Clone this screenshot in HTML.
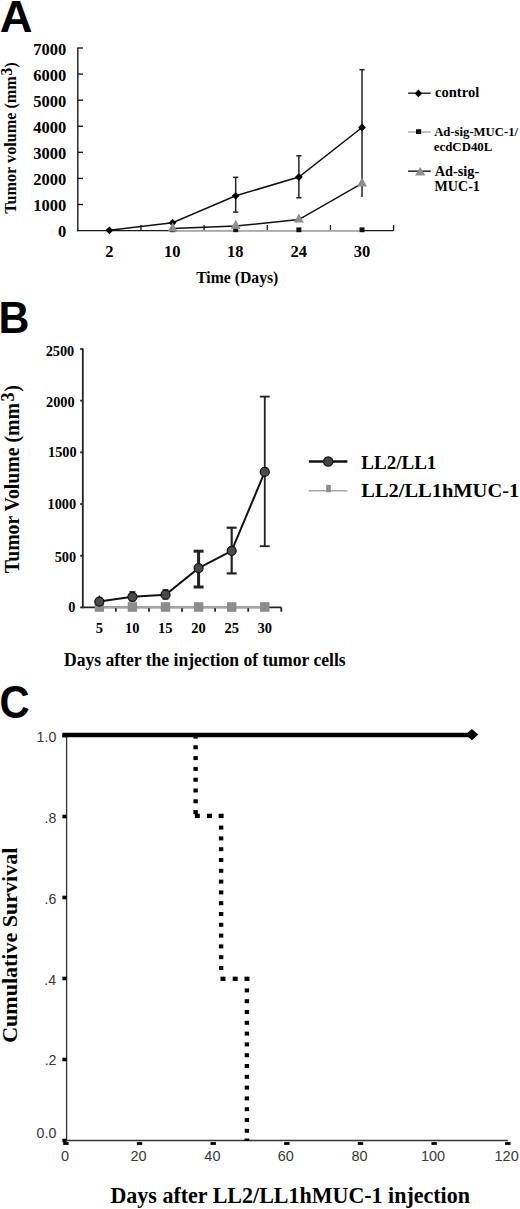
<!DOCTYPE html>
<html><head><meta charset="utf-8"><style>
html,body{margin:0;padding:0;background:#fff;}
body{width:520px;height:1209px;overflow:hidden;}
svg{display:block;}
</style></head><body>
<svg width="520" height="1209" viewBox="0 0 520 1209">
<rect width="520" height="1209" fill="#fff"/>
<text x="-0.33" y="31.70" font-family="'Liberation Sans', sans-serif" font-weight="bold" font-size="45" textLength="32.77" lengthAdjust="spacingAndGlyphs" fill="#000">A</text>
<line x1="77.80" y1="47.60" x2="77.80" y2="231.20" stroke="#1a1a1a" stroke-width="1.4"/>
<line x1="77.80" y1="204.51" x2="83.00" y2="204.51" stroke="#1a1a1a" stroke-width="1.4"/>
<line x1="77.80" y1="178.43" x2="83.00" y2="178.43" stroke="#1a1a1a" stroke-width="1.4"/>
<line x1="77.80" y1="152.34" x2="83.00" y2="152.34" stroke="#1a1a1a" stroke-width="1.4"/>
<line x1="77.80" y1="126.26" x2="83.00" y2="126.26" stroke="#1a1a1a" stroke-width="1.4"/>
<line x1="77.80" y1="100.17" x2="83.00" y2="100.17" stroke="#1a1a1a" stroke-width="1.4"/>
<line x1="77.80" y1="74.09" x2="83.00" y2="74.09" stroke="#1a1a1a" stroke-width="1.4"/>
<line x1="77.80" y1="48.00" x2="83.00" y2="48.00" stroke="#1a1a1a" stroke-width="1.4"/>
<text x="57.91" y="237.40" font-family="'Liberation Serif', serif" font-weight="bold" font-size="16.5" textLength="8.25" lengthAdjust="spacingAndGlyphs" fill="#000">0</text>
<text x="33.16" y="211.31" font-family="'Liberation Serif', serif" font-weight="bold" font-size="16.5" textLength="33.00" lengthAdjust="spacingAndGlyphs" fill="#000">1000</text>
<text x="33.16" y="185.23" font-family="'Liberation Serif', serif" font-weight="bold" font-size="16.5" textLength="33.00" lengthAdjust="spacingAndGlyphs" fill="#000">2000</text>
<text x="33.16" y="159.14" font-family="'Liberation Serif', serif" font-weight="bold" font-size="16.5" textLength="33.00" lengthAdjust="spacingAndGlyphs" fill="#000">3000</text>
<text x="33.16" y="133.06" font-family="'Liberation Serif', serif" font-weight="bold" font-size="16.5" textLength="33.00" lengthAdjust="spacingAndGlyphs" fill="#000">4000</text>
<text x="33.16" y="106.97" font-family="'Liberation Serif', serif" font-weight="bold" font-size="16.5" textLength="33.00" lengthAdjust="spacingAndGlyphs" fill="#000">5000</text>
<text x="33.16" y="80.89" font-family="'Liberation Serif', serif" font-weight="bold" font-size="16.5" textLength="33.00" lengthAdjust="spacingAndGlyphs" fill="#000">6000</text>
<text x="33.16" y="54.80" font-family="'Liberation Serif', serif" font-weight="bold" font-size="16.5" textLength="33.00" lengthAdjust="spacingAndGlyphs" fill="#000">7000</text>
<line x1="77.10" y1="230.60" x2="393.80" y2="230.60" stroke="#1a1a1a" stroke-width="1.4"/>
<line x1="140.96" y1="230.60" x2="140.96" y2="225.10" stroke="#1a1a1a" stroke-width="1.3"/>
<line x1="204.12" y1="230.60" x2="204.12" y2="225.10" stroke="#1a1a1a" stroke-width="1.3"/>
<line x1="267.28" y1="230.60" x2="267.28" y2="225.10" stroke="#1a1a1a" stroke-width="1.3"/>
<line x1="330.44" y1="230.60" x2="330.44" y2="225.10" stroke="#1a1a1a" stroke-width="1.3"/>
<line x1="393.60" y1="230.60" x2="393.60" y2="225.10" stroke="#1a1a1a" stroke-width="1.3"/>
<text x="105.25" y="257.00" font-family="'Liberation Serif', serif" font-weight="bold" font-size="16.5" textLength="8.25" lengthAdjust="spacingAndGlyphs" fill="#000">2</text>
<text x="163.96" y="257.00" font-family="'Liberation Serif', serif" font-weight="bold" font-size="16.5" textLength="16.50" lengthAdjust="spacingAndGlyphs" fill="#000">10</text>
<text x="227.08" y="257.00" font-family="'Liberation Serif', serif" font-weight="bold" font-size="16.5" textLength="16.50" lengthAdjust="spacingAndGlyphs" fill="#000">18</text>
<text x="290.44" y="257.00" font-family="'Liberation Serif', serif" font-weight="bold" font-size="16.5" textLength="16.50" lengthAdjust="spacingAndGlyphs" fill="#000">24</text>
<text x="353.81" y="257.00" font-family="'Liberation Serif', serif" font-weight="bold" font-size="16.5" textLength="16.50" lengthAdjust="spacingAndGlyphs" fill="#000">30</text>
<text x="196.16" y="282.70" font-family="'Liberation Serif', serif" font-weight="bold" font-size="16.2" textLength="82.18" lengthAdjust="spacingAndGlyphs" fill="#000">Time (Days)</text>
<text transform="translate(16.30,213.74) rotate(-90)" x="0" y="0" font-family="'Liberation Serif', serif" font-weight="bold" font-size="16" textLength="137.47" lengthAdjust="spacingAndGlyphs" fill="#000">Tumor volume (mm</text>
<text transform="translate(11.60,75.44) rotate(-90)" x="0" y="0" font-family="'Liberation Serif', serif" font-weight="bold" font-size="16" textLength="7.67" lengthAdjust="spacingAndGlyphs" fill="#000">3</text>
<text transform="translate(16.30,67.56) rotate(-90)" x="0" y="0" font-family="'Liberation Serif', serif" font-weight="bold" font-size="16" textLength="5.12" lengthAdjust="spacingAndGlyphs" fill="#000">)</text>
<line x1="235.70" y1="177.30" x2="235.70" y2="212.10" stroke="#222" stroke-width="1.5"/>
<line x1="233.10" y1="177.30" x2="238.30" y2="177.30" stroke="#222" stroke-width="1.5"/>
<line x1="233.10" y1="212.10" x2="238.30" y2="212.10" stroke="#222" stroke-width="1.5"/>
<line x1="298.86" y1="155.80" x2="298.86" y2="197.80" stroke="#222" stroke-width="1.5"/>
<line x1="296.26" y1="155.80" x2="301.46" y2="155.80" stroke="#222" stroke-width="1.5"/>
<line x1="296.26" y1="197.80" x2="301.46" y2="197.80" stroke="#222" stroke-width="1.5"/>
<line x1="362.02" y1="69.70" x2="362.02" y2="197.00" stroke="#222" stroke-width="1.5"/>
<line x1="359.42" y1="69.70" x2="364.62" y2="69.70" stroke="#222" stroke-width="1.5"/>
<path d="M109.38,230.30 L172.54,222.80 L235.70,195.80 L298.86,177.00 L362.02,127.50" fill="none" stroke="#111" stroke-width="1.5"/>
<path d="M105.48,230.30 L109.38,226.40 L113.28,230.30 L109.38,234.20 Z" fill="#000" stroke="none" stroke-width="1"/>
<path d="M168.64,222.80 L172.54,218.90 L176.44,222.80 L172.54,226.70 Z" fill="#000" stroke="none" stroke-width="1"/>
<path d="M231.80,195.80 L235.70,191.90 L239.60,195.80 L235.70,199.70 Z" fill="#000" stroke="none" stroke-width="1"/>
<path d="M294.96,177.00 L298.86,173.10 L302.76,177.00 L298.86,180.90 Z" fill="#000" stroke="none" stroke-width="1"/>
<path d="M358.12,127.50 L362.02,123.60 L365.92,127.50 L362.02,131.40 Z" fill="#000" stroke="none" stroke-width="1"/>
<line x1="172.54" y1="230.80" x2="362.02" y2="230.80" stroke="#a8a8a8" stroke-width="1.5"/>
<rect x="170.04" y="227.40" width="5.00" height="4.80" fill="#111"/>
<rect x="233.20" y="227.40" width="5.00" height="4.80" fill="#111"/>
<rect x="296.36" y="227.40" width="5.00" height="4.80" fill="#111"/>
<rect x="359.52" y="227.40" width="5.00" height="4.80" fill="#111"/>
<path d="M172.54,228.40 L235.70,226.00 L298.86,219.60 L362.02,183.40" fill="none" stroke="#111" stroke-width="1.5"/>
<path d="M172.54,222.20 L177.44,231.40 L167.64,231.40 Z" fill="#8e8e8e" stroke="none" stroke-width="1"/>
<path d="M235.70,219.80 L240.60,229.00 L230.80,229.00 Z" fill="#8e8e8e" stroke="none" stroke-width="1"/>
<path d="M298.86,213.40 L303.76,222.60 L293.96,222.60 Z" fill="#8e8e8e" stroke="none" stroke-width="1"/>
<path d="M362.02,177.20 L366.92,186.40 L357.12,186.40 Z" fill="#8e8e8e" stroke="none" stroke-width="1"/>
<line x1="408.10" y1="93.20" x2="430.80" y2="93.20" stroke="#222" stroke-width="1.4"/>
<path d="M414.60,93.40 L418.40,89.60 L422.20,93.40 L418.40,97.20 Z" fill="#000" stroke="none" stroke-width="1"/>
<text x="434.99" y="96.50" font-family="'Liberation Serif', serif" font-weight="bold" font-size="14.2" textLength="44.25" lengthAdjust="spacingAndGlyphs" fill="#000">control</text>
<line x1="408.10" y1="132.00" x2="430.80" y2="132.00" stroke="#aaaaaa" stroke-width="1.4"/>
<rect x="416.00" y="129.20" width="5.20" height="4.80" fill="#111"/>
<text x="434.17" y="136.40" font-family="'Liberation Serif', serif" font-weight="bold" font-size="12.6" textLength="83.84" lengthAdjust="spacingAndGlyphs" fill="#000">Ad-sig-MUC-1/</text>
<text x="433.85" y="150.70" font-family="'Liberation Serif', serif" font-weight="bold" font-size="12.6" textLength="58.47" lengthAdjust="spacingAndGlyphs" fill="#000">ecdCD40L</text>
<line x1="408.10" y1="171.20" x2="430.80" y2="171.20" stroke="#222" stroke-width="1.5"/>
<path d="M420.20,167.00 L425.40,175.60 L415.00,175.60 Z" fill="#8e8e8e" stroke="none" stroke-width="1"/>
<text x="434.66" y="175.90" font-family="'Liberation Serif', serif" font-weight="bold" font-size="14" textLength="44.56" lengthAdjust="spacingAndGlyphs" fill="#000">Ad-sig-</text>
<text x="434.59" y="190.70" font-family="'Liberation Serif', serif" font-weight="bold" font-size="14" textLength="45.33" lengthAdjust="spacingAndGlyphs" fill="#000">MUC-1</text>
<text x="-1.58" y="333.10" font-family="'Liberation Sans', sans-serif" font-weight="bold" font-size="45" textLength="30.90" lengthAdjust="spacingAndGlyphs" fill="#000">B</text>
<line x1="82.80" y1="348.50" x2="82.80" y2="608.20" stroke="#222" stroke-width="1.8"/>
<line x1="80.20" y1="607.40" x2="82.80" y2="607.40" stroke="#222" stroke-width="1.8"/>
<text x="68.22" y="612.00" font-family="'Liberation Serif', serif" font-weight="bold" font-size="14.3" textLength="7.15" lengthAdjust="spacingAndGlyphs" fill="#000">0</text>
<line x1="80.20" y1="555.72" x2="82.80" y2="555.72" stroke="#222" stroke-width="1.8"/>
<text x="54.72" y="562.30" font-family="'Liberation Serif', serif" font-weight="bold" font-size="14.3" textLength="21.45" lengthAdjust="spacingAndGlyphs" fill="#000">500</text>
<line x1="80.20" y1="504.04" x2="82.80" y2="504.04" stroke="#222" stroke-width="1.8"/>
<text x="47.57" y="508.70" font-family="'Liberation Serif', serif" font-weight="bold" font-size="14.3" textLength="28.60" lengthAdjust="spacingAndGlyphs" fill="#000">1000</text>
<line x1="80.20" y1="452.36" x2="82.80" y2="452.36" stroke="#222" stroke-width="1.8"/>
<text x="48.07" y="457.00" font-family="'Liberation Serif', serif" font-weight="bold" font-size="14.3" textLength="28.60" lengthAdjust="spacingAndGlyphs" fill="#000">1500</text>
<line x1="80.20" y1="400.68" x2="82.80" y2="400.68" stroke="#222" stroke-width="1.8"/>
<text x="46.07" y="406.50" font-family="'Liberation Serif', serif" font-weight="bold" font-size="14.3" textLength="28.60" lengthAdjust="spacingAndGlyphs" fill="#000">2000</text>
<line x1="80.20" y1="349.00" x2="82.80" y2="349.00" stroke="#222" stroke-width="1.8"/>
<text x="45.67" y="355.60" font-family="'Liberation Serif', serif" font-weight="bold" font-size="14.3" textLength="28.60" lengthAdjust="spacingAndGlyphs" fill="#000">2500</text>
<line x1="82.80" y1="607.40" x2="281.30" y2="607.40" stroke="#222" stroke-width="1.8"/>
<line x1="115.88" y1="607.40" x2="115.88" y2="611.70" stroke="#222" stroke-width="1.8"/>
<line x1="148.97" y1="607.40" x2="148.97" y2="611.70" stroke="#222" stroke-width="1.8"/>
<line x1="182.05" y1="607.40" x2="182.05" y2="611.70" stroke="#222" stroke-width="1.8"/>
<line x1="215.13" y1="607.40" x2="215.13" y2="611.70" stroke="#222" stroke-width="1.8"/>
<line x1="248.22" y1="607.40" x2="248.22" y2="611.70" stroke="#222" stroke-width="1.8"/>
<line x1="281.30" y1="607.40" x2="281.30" y2="611.70" stroke="#222" stroke-width="1.8"/>
<text x="95.68" y="633.30" font-family="'Liberation Serif', serif" font-weight="bold" font-size="14.5" textLength="7.25" lengthAdjust="spacingAndGlyphs" fill="#000">5</text>
<text x="124.89" y="633.30" font-family="'Liberation Serif', serif" font-weight="bold" font-size="14.5" textLength="14.50" lengthAdjust="spacingAndGlyphs" fill="#000">10</text>
<text x="157.93" y="633.30" font-family="'Liberation Serif', serif" font-weight="bold" font-size="14.5" textLength="14.50" lengthAdjust="spacingAndGlyphs" fill="#000">15</text>
<text x="191.34" y="633.30" font-family="'Liberation Serif', serif" font-weight="bold" font-size="14.5" textLength="14.50" lengthAdjust="spacingAndGlyphs" fill="#000">20</text>
<text x="224.39" y="633.30" font-family="'Liberation Serif', serif" font-weight="bold" font-size="14.5" textLength="14.50" lengthAdjust="spacingAndGlyphs" fill="#000">25</text>
<text x="257.54" y="633.30" font-family="'Liberation Serif', serif" font-weight="bold" font-size="14.5" textLength="14.50" lengthAdjust="spacingAndGlyphs" fill="#000">30</text>
<text x="63.94" y="666.30" font-family="'Liberation Serif', serif" font-weight="bold" font-size="18" textLength="281.71" lengthAdjust="spacingAndGlyphs" fill="#000">Days after the injection of tumor cells</text>
<text transform="translate(18.70,573.20) rotate(-90)" x="0" y="0" font-family="'Liberation Serif', serif" font-weight="bold" font-size="20.5" textLength="170.14" lengthAdjust="spacingAndGlyphs" fill="#000">Tumor Volume (mm</text>
<text transform="translate(14.40,401.43) rotate(-90)" x="0" y="0" font-family="'Liberation Serif', serif" font-weight="bold" font-size="19" textLength="9.07" lengthAdjust="spacingAndGlyphs" fill="#000">3</text>
<text transform="translate(18.70,391.58) rotate(-90)" x="0" y="0" font-family="'Liberation Serif', serif" font-weight="bold" font-size="20.5" textLength="6.40" lengthAdjust="spacingAndGlyphs" fill="#000">)</text>
<line x1="99.34" y1="607.40" x2="264.76" y2="607.40" stroke="#a8a8a8" stroke-width="1.8"/>
<rect x="94.64" y="602.20" width="9.40" height="9.60" fill="#8c8c8c"/>
<rect x="127.73" y="602.20" width="9.40" height="9.60" fill="#8c8c8c"/>
<rect x="160.81" y="602.20" width="9.40" height="9.60" fill="#8c8c8c"/>
<rect x="193.89" y="602.20" width="9.40" height="9.60" fill="#8c8c8c"/>
<rect x="226.98" y="602.20" width="9.40" height="9.60" fill="#8c8c8c"/>
<rect x="260.06" y="602.20" width="9.40" height="9.60" fill="#8c8c8c"/>
<line x1="99.34" y1="595.50" x2="99.34" y2="601.00" stroke="#222" stroke-width="1.4"/>
<line x1="132.43" y1="591.80" x2="132.43" y2="601.00" stroke="#222" stroke-width="1.4"/>
<line x1="129.43" y1="591.80" x2="135.43" y2="591.80" stroke="#222" stroke-width="1.4"/>
<line x1="129.43" y1="601.00" x2="135.43" y2="601.00" stroke="#222" stroke-width="1.4"/>
<line x1="165.51" y1="589.80" x2="165.51" y2="599.00" stroke="#222" stroke-width="1.4"/>
<line x1="162.51" y1="589.80" x2="168.51" y2="589.80" stroke="#222" stroke-width="1.4"/>
<line x1="162.51" y1="599.00" x2="168.51" y2="599.00" stroke="#222" stroke-width="1.4"/>
<line x1="198.59" y1="551.20" x2="198.59" y2="587.00" stroke="#222" stroke-width="3.0"/>
<line x1="193.59" y1="551.20" x2="203.59" y2="551.20" stroke="#222" stroke-width="3.0"/>
<line x1="193.59" y1="587.00" x2="203.59" y2="587.00" stroke="#222" stroke-width="3.0"/>
<line x1="231.68" y1="527.70" x2="231.68" y2="573.40" stroke="#222" stroke-width="2.2"/>
<line x1="226.68" y1="527.70" x2="236.68" y2="527.70" stroke="#222" stroke-width="2.2"/>
<line x1="226.68" y1="573.40" x2="236.68" y2="573.40" stroke="#222" stroke-width="2.2"/>
<line x1="264.76" y1="396.60" x2="264.76" y2="546.20" stroke="#222" stroke-width="1.8"/>
<line x1="259.76" y1="396.60" x2="269.76" y2="396.60" stroke="#222" stroke-width="1.8"/>
<line x1="259.76" y1="546.20" x2="269.76" y2="546.20" stroke="#222" stroke-width="1.8"/>
<path d="M99.34,601.60 L132.43,596.80 L165.51,594.70 L198.59,568.10 L231.68,550.80 L264.76,471.90" fill="none" stroke="#111" stroke-width="2.0"/>
<circle cx="99.34" cy="601.60" r="4.50" fill="#4a4a4a" stroke="#111" stroke-width="1.2"/>
<circle cx="132.43" cy="596.80" r="4.50" fill="#4a4a4a" stroke="#111" stroke-width="1.2"/>
<circle cx="165.51" cy="594.70" r="4.50" fill="#4a4a4a" stroke="#111" stroke-width="1.2"/>
<circle cx="198.59" cy="568.10" r="4.50" fill="#4a4a4a" stroke="#111" stroke-width="1.2"/>
<circle cx="231.68" cy="550.80" r="4.50" fill="#4a4a4a" stroke="#111" stroke-width="1.2"/>
<circle cx="264.76" cy="471.90" r="4.50" fill="#4a4a4a" stroke="#111" stroke-width="1.2"/>
<line x1="308.90" y1="461.50" x2="347.40" y2="461.50" stroke="#111" stroke-width="2.4"/>
<circle cx="328.20" cy="461.50" r="4.60" fill="#444" stroke="#111" stroke-width="1.3"/>
<line x1="308.90" y1="490.80" x2="347.40" y2="490.80" stroke="#a8a8a8" stroke-width="1.4"/>
<rect x="326.20" y="484.90" width="4.60" height="7.30" fill="#8a8a8a"/>
<text x="361.31" y="468.70" font-family="'Liberation Serif', serif" font-weight="bold" font-size="19.5" textLength="75.05" lengthAdjust="spacingAndGlyphs" fill="#000">LL2/LL1</text>
<text x="361.29" y="496.70" font-family="'Liberation Serif', serif" font-weight="bold" font-size="19.5" textLength="157.90" lengthAdjust="spacingAndGlyphs" fill="#000">LL2/LL1hMUC-1</text>
<text x="-0.47" y="717.70" font-family="'Liberation Sans', sans-serif" font-weight="bold" font-size="45.5" textLength="30.10" lengthAdjust="spacingAndGlyphs" fill="#000">C</text>
<line x1="66.60" y1="735.00" x2="66.60" y2="1140.50" stroke="#333" stroke-width="1.3"/>
<line x1="66.60" y1="1140.50" x2="507.90" y2="1140.50" stroke="#333" stroke-width="1.3"/>
<rect x="62.40" y="1138.70" width="4.20" height="3.60" fill="#000"/>
<text x="36.56" y="1137.80" font-family="'Liberation Sans', sans-serif" font-weight="normal" font-size="14.2" textLength="19.74" lengthAdjust="spacingAndGlyphs" fill="#383838">0.0</text>
<rect x="62.40" y="1057.70" width="4.20" height="3.60" fill="#000"/>
<text x="44.65" y="1064.60" font-family="'Liberation Sans', sans-serif" font-weight="normal" font-size="14.2" textLength="11.84" lengthAdjust="spacingAndGlyphs" fill="#383838">.2</text>
<rect x="62.40" y="976.70" width="4.20" height="3.60" fill="#000"/>
<text x="44.37" y="984.70" font-family="'Liberation Sans', sans-serif" font-weight="normal" font-size="14.2" textLength="11.84" lengthAdjust="spacingAndGlyphs" fill="#383838">.4</text>
<rect x="62.40" y="895.70" width="4.20" height="3.60" fill="#000"/>
<text x="44.51" y="904.00" font-family="'Liberation Sans', sans-serif" font-weight="normal" font-size="14.2" textLength="11.84" lengthAdjust="spacingAndGlyphs" fill="#383838">.6</text>
<rect x="62.40" y="814.70" width="4.20" height="3.60" fill="#000"/>
<text x="44.51" y="822.70" font-family="'Liberation Sans', sans-serif" font-weight="normal" font-size="14.2" textLength="11.84" lengthAdjust="spacingAndGlyphs" fill="#383838">.8</text>
<rect x="62.40" y="733.70" width="4.20" height="3.60" fill="#000"/>
<text x="36.56" y="741.50" font-family="'Liberation Sans', sans-serif" font-weight="normal" font-size="14.2" textLength="19.74" lengthAdjust="spacingAndGlyphs" fill="#383838">1.0</text>
<rect x="63.20" y="1142.10" width="5.40" height="2.80" fill="#000"/>
<text x="60.94" y="1160.60" font-family="'Liberation Sans', sans-serif" font-weight="normal" font-size="14.5" textLength="8.06" lengthAdjust="spacingAndGlyphs" fill="#383838">0</text>
<rect x="136.85" y="1142.10" width="5.40" height="2.80" fill="#000"/>
<text x="130.49" y="1160.60" font-family="'Liberation Sans', sans-serif" font-weight="normal" font-size="14.5" textLength="16.13" lengthAdjust="spacingAndGlyphs" fill="#383838">20</text>
<rect x="210.50" y="1142.10" width="5.40" height="2.80" fill="#000"/>
<text x="204.36" y="1160.60" font-family="'Liberation Sans', sans-serif" font-weight="normal" font-size="14.5" textLength="16.13" lengthAdjust="spacingAndGlyphs" fill="#383838">40</text>
<rect x="284.15" y="1142.10" width="5.40" height="2.80" fill="#000"/>
<text x="277.79" y="1160.60" font-family="'Liberation Sans', sans-serif" font-weight="normal" font-size="14.5" textLength="16.13" lengthAdjust="spacingAndGlyphs" fill="#383838">60</text>
<rect x="357.80" y="1142.10" width="5.40" height="2.80" fill="#000"/>
<text x="351.48" y="1160.60" font-family="'Liberation Sans', sans-serif" font-weight="normal" font-size="14.5" textLength="16.13" lengthAdjust="spacingAndGlyphs" fill="#383838">80</text>
<rect x="431.45" y="1142.10" width="5.40" height="2.80" fill="#000"/>
<text x="420.89" y="1160.60" font-family="'Liberation Sans', sans-serif" font-weight="normal" font-size="14.5" textLength="24.19" lengthAdjust="spacingAndGlyphs" fill="#383838">100</text>
<rect x="505.10" y="1142.10" width="5.40" height="2.80" fill="#000"/>
<text x="494.54" y="1160.60" font-family="'Liberation Sans', sans-serif" font-weight="normal" font-size="14.5" textLength="24.19" lengthAdjust="spacingAndGlyphs" fill="#383838">120</text>
<text x="110.47" y="1202.90" font-family="'Liberation Serif', serif" font-weight="bold" font-size="23" textLength="359.51" lengthAdjust="spacingAndGlyphs" fill="#000">Days after LL2/LL1hMUC-1 injection</text>
<text transform="translate(16.80,1042.80) rotate(-90)" x="0" y="0" font-family="'Liberation Serif', serif" font-weight="bold" font-size="22" textLength="195.07" lengthAdjust="spacingAndGlyphs" fill="#000">Cumulative Survival</text>
<line x1="62.50" y1="735.00" x2="471.40" y2="735.00" stroke="#000" stroke-width="4.6"/>
<path d="M465.50,734.60 L471.90,729.00 L478.30,734.60 L471.90,740.20 Z" fill="#000" stroke="none" stroke-width="1"/>
<rect x="193.40" y="735.00" width="4.40" height="3.60" fill="#000"/>
<rect x="193.40" y="745.30" width="4.40" height="4.00" fill="#000"/>
<rect x="193.40" y="756.10" width="4.40" height="4.00" fill="#000"/>
<rect x="193.40" y="766.90" width="4.40" height="4.00" fill="#000"/>
<rect x="193.40" y="777.70" width="4.40" height="4.00" fill="#000"/>
<rect x="193.40" y="788.50" width="4.40" height="4.00" fill="#000"/>
<rect x="193.40" y="799.30" width="4.40" height="4.00" fill="#000"/>
<rect x="193.40" y="810.10" width="4.40" height="4.00" fill="#000"/>
<rect x="194.80" y="813.75" width="5.00" height="4.30" fill="#000"/>
<rect x="207.00" y="813.75" width="5.00" height="4.30" fill="#000"/>
<rect x="218.60" y="813.75" width="5.00" height="4.30" fill="#000"/>
<rect x="218.90" y="825.60" width="4.40" height="4.00" fill="#000"/>
<rect x="218.90" y="836.40" width="4.40" height="4.00" fill="#000"/>
<rect x="218.90" y="847.20" width="4.40" height="4.00" fill="#000"/>
<rect x="218.90" y="858.00" width="4.40" height="4.00" fill="#000"/>
<rect x="218.90" y="868.80" width="4.40" height="4.00" fill="#000"/>
<rect x="218.90" y="879.60" width="4.40" height="4.00" fill="#000"/>
<rect x="218.90" y="890.40" width="4.40" height="4.00" fill="#000"/>
<rect x="218.90" y="901.20" width="4.40" height="4.00" fill="#000"/>
<rect x="218.90" y="912.00" width="4.40" height="4.00" fill="#000"/>
<rect x="218.90" y="922.80" width="4.40" height="4.00" fill="#000"/>
<rect x="218.90" y="933.60" width="4.40" height="4.00" fill="#000"/>
<rect x="218.90" y="944.40" width="4.40" height="4.00" fill="#000"/>
<rect x="218.90" y="955.20" width="4.40" height="4.00" fill="#000"/>
<rect x="218.90" y="966.00" width="4.40" height="4.00" fill="#000"/>
<rect x="220.50" y="976.65" width="5.00" height="4.30" fill="#000"/>
<rect x="232.70" y="976.65" width="5.00" height="4.30" fill="#000"/>
<rect x="244.50" y="976.65" width="5.00" height="4.30" fill="#000"/>
<rect x="244.70" y="988.40" width="4.40" height="4.00" fill="#000"/>
<rect x="244.70" y="999.20" width="4.40" height="4.00" fill="#000"/>
<rect x="244.70" y="1010.00" width="4.40" height="4.00" fill="#000"/>
<rect x="244.70" y="1020.80" width="4.40" height="4.00" fill="#000"/>
<rect x="244.70" y="1031.60" width="4.40" height="4.00" fill="#000"/>
<rect x="244.70" y="1042.40" width="4.40" height="4.00" fill="#000"/>
<rect x="244.70" y="1053.20" width="4.40" height="4.00" fill="#000"/>
<rect x="244.70" y="1064.00" width="4.40" height="4.00" fill="#000"/>
<rect x="244.70" y="1074.80" width="4.40" height="4.00" fill="#000"/>
<rect x="244.70" y="1085.60" width="4.40" height="4.00" fill="#000"/>
<rect x="244.70" y="1096.40" width="4.40" height="4.00" fill="#000"/>
<rect x="244.70" y="1107.20" width="4.40" height="4.00" fill="#000"/>
<rect x="244.70" y="1118.00" width="4.40" height="4.00" fill="#000"/>
<rect x="244.70" y="1128.80" width="4.40" height="4.00" fill="#000"/>
<rect x="244.50" y="1138.50" width="4.80" height="2.50" fill="#000"/>
</svg>
</body></html>
